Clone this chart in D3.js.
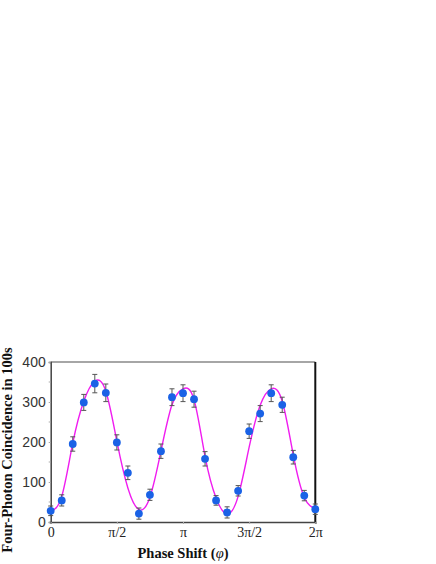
<!DOCTYPE html>
<html>
<head>
<meta charset="utf-8">
<script src="https://cdn.jsdelivr.net/npm/d3@7"></script>
<style>
  body { margin: 0; background: #fff; }
  .ylab { font-family: "Liberation Sans", Arial, sans-serif; font-size: 14px; fill: #333; }
  .xlab { font-family: "Liberation Serif", "Times New Roman", serif; font-size: 14px; fill: #222; }
  .title { font-family: "Liberation Serif", "Times New Roman", serif; font-size: 14.5px; font-weight: bold; fill: #111; }
</style>
</head>
<body>
<svg id="chart"></svg>
<script>
// measured points, phase = k * pi/12
var counts = [28, 54, 195, 299, 346, 323, 199, 123, 21, 68, 177, 312, 322, 307, 158, 54, 24, 78, 227, 271, 322, 293, 162, 66, 32];
var errors = [12, 14, 18, 20, 23, 22, 19, 17, 14, 14, 18, 21, 21, 20, 18, 12, 14, 13, 18, 20, 21, 19, 17, 13, 13];
// fitted curve at the same phases
var fit = [27, 64, 197, 302, 352, 327, 202, 85, 31, 62, 177, 293, 333, 306, 164, 60, 20, 64, 187, 292, 333, 302, 168, 62, 33];
var yTicks = [0, 100, 200, 300, 400];
var yMinor = [50, 150, 250, 350];
var xTicks = [0, Math.PI / 2, Math.PI, 3 * Math.PI / 2, 2 * Math.PI];
var xTickLabels = ["0", "\u03c0/2", "\u03c0", "3\u03c0/2", "2\u03c0"];

var w = 436;
var h = 564;
var padding = { top: 362, bottom: 42, left: 50.7, right: 120.7 };

var svg = d3.select("#chart")
  .attr("width", w)
  .attr("height", h);

var xScale = d3.scaleLinear()
  .domain([0, 2 * Math.PI])
  .range([padding.left, w - padding.right]);

var yScale = d3.scaleLinear()
  .domain([0, 400])
  .range([h - padding.bottom, padding.top]);

var phase = function(i) { return i * Math.PI / 12; };

// frame: top and right
svg.append("line")
  .attr("x1", xScale(0)).attr("x2", xScale(2 * Math.PI))
  .attr("y1", yScale(400)).attr("y2", yScale(400))
  .attr("stroke", "#888").attr("stroke-width", 1.5);
svg.append("line")
  .attr("x1", xScale(2 * Math.PI)).attr("x2", xScale(2 * Math.PI))
  .attr("y1", yScale(400)).attr("y2", yScale(0))
  .attr("stroke", "#111").attr("stroke-width", 2);

// axes
var yAxis = d3.axisLeft(yScale).tickValues(yTicks).tickSize(2).tickPadding(3);
var gy = svg.append("g")
  .attr("transform", "translate(" + padding.left + ",0)")
  .call(yAxis);
gy.select(".domain").attr("stroke", "#444").attr("stroke-width", 1.5);
gy.selectAll(".tick line").attr("stroke", "#aaa");
gy.selectAll(".tick text").attr("class", "ylab").attr("fill", null);
gy.attr("font-size", null).attr("font-family", null);

svg.selectAll(".minor")
  .data(yMinor)
  .enter()
  .append("line")
  .attr("x1", padding.left - 2).attr("x2", padding.left)
  .attr("y1", function(d) { return yScale(d); })
  .attr("y2", function(d) { return yScale(d); })
  .attr("stroke", "#aaa");

var xAxis = d3.axisBottom(xScale)
  .tickValues(xTicks)
  .tickFormat(function(d, i) { return xTickLabels[i]; })
  .tickSize(2).tickPadding(3);
var gx = svg.append("g")
  .attr("transform", "translate(0," + (h - padding.bottom) + ")")
  .call(xAxis);
gx.select(".domain").attr("stroke", "#444").attr("stroke-width", 1.5);
gx.selectAll(".tick line").attr("stroke", "#aaa");
gx.selectAll(".tick text").attr("class", "xlab").attr("fill", null);
gx.attr("font-size", null).attr("font-family", null);

// fit curve
var line = d3.line()
  .x(function(d, i) { return xScale(phase(i)); })
  .y(function(d) { return yScale(d); })
  .curve(d3.curveNatural);

svg.append("path")
  .datum(fit)
  .attr("d", line)
  .attr("fill", "none")
  .attr("stroke", "#f01cf0")
  .attr("stroke-width", 1.4);

// error bars
var bars = svg.selectAll(".err")
  .data(counts)
  .enter()
  .append("g")
  .attr("stroke", "#555")
  .attr("stroke-width", 1);
bars.append("line")
  .attr("x1", function(d, i) { return xScale(phase(i)); })
  .attr("x2", function(d, i) { return xScale(phase(i)); })
  .attr("y1", function(d, i) { return yScale(d + errors[i]); })
  .attr("y2", function(d, i) { return yScale(d - errors[i]); });
bars.append("line")
  .attr("x1", function(d, i) { return xScale(phase(i)) - 2.5; })
  .attr("x2", function(d, i) { return xScale(phase(i)) + 2.5; })
  .attr("y1", function(d, i) { return yScale(d + errors[i]); })
  .attr("y2", function(d, i) { return yScale(d + errors[i]); });
bars.append("line")
  .attr("x1", function(d, i) { return xScale(phase(i)) - 2.5; })
  .attr("x2", function(d, i) { return xScale(phase(i)) + 2.5; })
  .attr("y1", function(d, i) { return yScale(d - errors[i]); })
  .attr("y2", function(d, i) { return yScale(d - errors[i]); });

// points
svg.selectAll(".pt")
  .data(counts)
  .enter()
  .append("circle")
  .attr("cx", function(d, i) { return xScale(phase(i)); })
  .attr("cy", function(d) { return yScale(d); })
  .attr("r", 3.9)
  .attr("fill", "#1a62e6");

// axis titles
svg.append("text")
  .attr("class", "title")
  .attr("text-anchor", "middle")
  .attr("transform", "translate(12," + ((yScale(0) + yScale(400)) / 2 + 8) + ") rotate(-90)")
  .text("Four-Photon Coincidence in 100s");

var xt = svg.append("text")
  .attr("class", "title")
  .attr("text-anchor", "middle")
  .attr("x", xScale(Math.PI))
  .attr("y", 558);
xt.append("tspan").text("Phase Shift (");
xt.append("tspan").attr("font-style", "italic").attr("font-weight", "normal").text("\u03c6");
xt.append("tspan").text(")");
</script>
</body>
</html>
